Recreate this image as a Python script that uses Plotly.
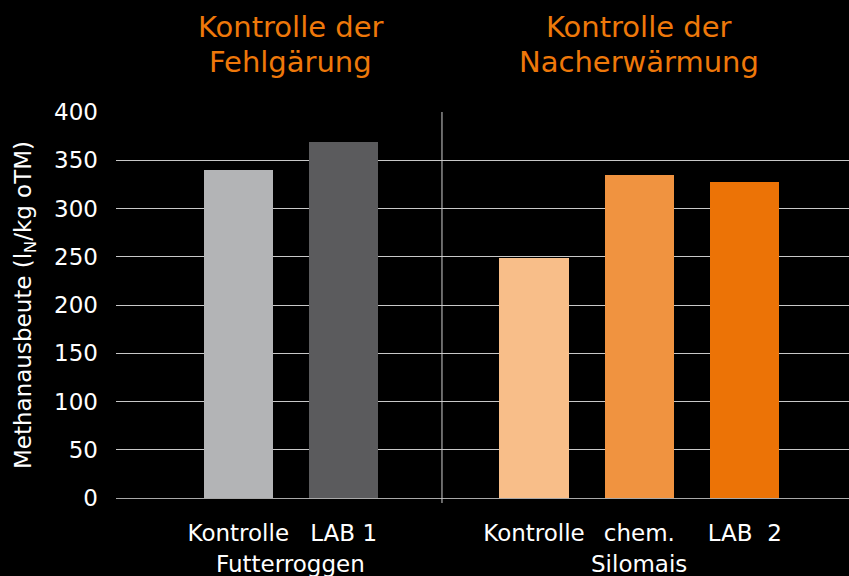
import plotly.graph_objects as go

# ---- data ----
groups = ["Futterroggen", "Silomais"]
group_titles = [["Kontrolle der", "Fehlgärung"], ["Kontrolle der", "Nacherwärmung"]]
categories = [["Kontrolle", "LAB 1"], ["Kontrolle", "chem.", "LAB  2"]]
values = [[340, 369], [249, 335, 327]]
colors = [["#B3B4B6", "#5B5B5D"], ["#F8BE89", "#F09340", "#EC7306"]]
y_ticks = [0, 50, 100, 150, 200, 250, 300, 350, 400]
y_title = "Methanausbeute (l<sub>N</sub>/kg oTM)"

# ---- layout helpers ----
GROUP_GAP = 1.806  # slot distance from last bar of group 1 to first bar of group 2
BAR_W = 0.655
FONT = "DejaVu Sans"
TITLE_COLOR = "#EE780A"
PLOT_TOP, PLOT_H = 112, 386

fig = go.Figure()
tickvals, ticktext, group_centers = [], [], []
start = 0.0
for g, (cats, vals, cols) in enumerate(zip(categories, values, colors)):
    xs = [start + i for i in range(len(cats))]
    fig.add_trace(go.Bar(x=xs, y=vals, width=BAR_W, marker=dict(color=cols, line_width=0),
                         showlegend=False, hoverinfo="y"))
    tickvals += xs
    ticktext += cats
    group_centers.append(sum(xs) / len(xs))
    start = xs[-1] + GROUP_GAP
divider_x = (len(categories[0]) - 1) + GROUP_GAP / 2 + 0.03

fig.update_layout(
    width=849, height=576,
    paper_bgcolor="black", plot_bgcolor="black",
    margin=dict(l=116, r=0, t=PLOT_TOP, b=576 - PLOT_TOP - PLOT_H),
    font=dict(family=FONT, color="white", size=23),
    bargap=0,
    xaxis=dict(range=[-1.160, 5.795], tickvals=tickvals, ticktext=ticktext,
               showgrid=False, zeroline=False, showline=True, linecolor="#a8a8a8",
               linewidth=1, ticks="", tickfont=dict(size=23, color="white"),
               ticklabelstandoff=14),
    yaxis=dict(range=[0, 400], tickvals=y_ticks, showgrid=True, gridcolor="#c8c8c8",
               gridwidth=1, zeroline=False, showline=False, ticks="",
               tickfont=dict(size=23, color="white"), ticklabelstandoff=17),
)


def py(px):
    """pixel row (from top of page) -> paper y"""
    return 1 - (px - PLOT_TOP) / PLOT_H


# divider between groups
fig.add_shape(type="line", xref="x", yref="paper", x0=divider_x, x1=divider_x,
              y0=py(503), y1=1, line=dict(color="#d0d0d0", width=1))

# group labels
for gc, name in zip(group_centers, groups):
    fig.add_annotation(x=gc, xref="x", y=py(564), yref="paper", text=name, showarrow=False,
                       font=dict(size=23, color="white", family=FONT),
                       xanchor="center", yanchor="middle")
# group titles (one annotation per line)
for gc, lines in zip(group_centers, group_titles):
    for li, line in enumerate(lines):
        fig.add_annotation(x=gc, xref="x", y=py(27 + 35 * li), yref="paper", text=line,
                           showarrow=False,
                           font=dict(size=29, color=TITLE_COLOR, family=FONT),
                           xanchor="center", yanchor="middle")

# y-axis title
fig.add_annotation(x=(25 - 116) / 733, xref="paper", y=0.5, yref="paper", text=y_title,
                   showarrow=False, textangle=-90,
                   font=dict(size=23, color="white", family=FONT),
                   xanchor="center", yanchor="middle")

fig.write_html("out.html", config={"displayModeBar": False})

# remove the default page margin so the figure fills the window
with open("out.html", "r", encoding="utf-8") as f:
    html = f.read()
html = html.replace("<head>", "<head><style>html,body{margin:0;padding:0;background:black;overflow:hidden}</style>", 1)
with open("out.html", "w", encoding="utf-8") as f:
    f.write(html)
